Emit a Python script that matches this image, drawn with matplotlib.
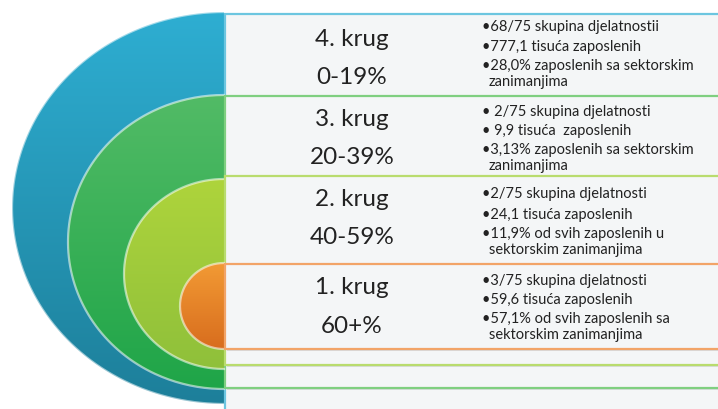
import numpy as np
import matplotlib
matplotlib.use("Agg")
import matplotlib.pyplot as plt
from matplotlib.path import Path
from matplotlib.patches import PathPatch, Rectangle
from matplotlib.colors import LinearSegmentedColormap

plt.rcParams['font.family'] = ['Lato', 'DejaVu Sans']

# podaci (od vanjskog prema unutarnjem krugu)
krugovi = ['4. krug', '3. krug', '2. krug', '1. krug']
rasponi = ['0-19%', '20-39%', '40-59%', '60+%']
stavke = [
    ['68/75 skupina djelatnostii', '777,1 tisuća zaposlenih',
     '28,0% zaposlenih sa sektorskim\nzanimanjima'],
    [' 2/75 skupina djelatnosti', ' 9,9 tisuća  zaposlenih',
     '3,13% zaposlenih sa sektorskim\nzanimanjima'],
    ['2/75 skupina djelatnosti', '24,1 tisuća zaposlenih',
     '11,9% od svih zaposlenih u\nsektorskim zanimanjima'],
    ['3/75 skupina djelatnosti', '59,6 tisuća zaposlenih',
     '57,1% od svih zaposlenih sa\nsektorskim zanimanjima'],
]

# boje: (gornja, donja) za polukrug, rub okvira
boje_gore = ['#2eaed2', '#52bb66', '#aed43c', '#f29a34']
boje_dolje = ['#1d7f9a', '#1fa548', '#8fc03a', '#d86d1e']
rubovi = ['#6cc6e0', '#7fcf80', '#b9dc6e', '#f2a468']

# raspored (pikseli): polukrugovi i okviri
ex = 224
elipse = [(209, 212, 196), (243, 156, 147), (275, 100, 95), (307, 44, 43)]
okviri = [(15, 420), (97, 389), (177, 366), (265, 350)]
naslov_y = [(40, 78), (120, 158), (200, 238), (288, 327)]
stavke_y = [(27, 47, 66), (112, 131, 150), (194, 215, 234), (281, 300, 319)]

fig = plt.figure(figsize=(7.18, 4.10), dpi=100)
ax = fig.add_axes([0, 0, 1, 1])
ax.set_xlim(0, 718)
ax.set_ylim(410, 0)
ax.axis('off')

t = np.linspace(np.pi / 2, 3 * np.pi / 2, 200)
for i in range(4):
    cy, rx, ry = elipse[i]
    verts = np.column_stack([ex + rx * np.cos(t), cy - ry * np.sin(t)])
    verts = np.vstack([verts, verts[:1]])
    put = Path(verts, closed=True)
    lik = PathPatch(put, facecolor='none', edgecolor='none', zorder=2 + 3 * i)
    ax.add_patch(lik)
    cmap = LinearSegmentedColormap.from_list('g%d' % i, [boje_gore[i], boje_dolje[i]])
    grad = np.linspace(0, 1, 256).reshape(-1, 1)
    slika = ax.imshow(grad, cmap=cmap, extent=(ex - rx, ex, cy + ry, cy - ry),
                      aspect='auto', zorder=2 + 3 * i, interpolation='bilinear')
    slika.set_clip_path(lik)
    # svijetli rub
    ax.plot(verts[:-1, 0], verts[:-1, 1], color='white',
            lw=1.6, alpha=0.55, zorder=2.1 + 3 * i)

    # okvir s tekstom
    y0, y1 = okviri[i]
    ax.add_patch(Rectangle((ex + 3, y0 + 2), 718, y1 - y0, facecolor='#d9dcde',
                           edgecolor='none', zorder=3 + 3 * i))
    ax.add_patch(Rectangle((ex + 1, y0), 718, y1 - y0, facecolor='#f4f6f7',
                           edgecolor=rubovi[i], lw=1.6, zorder=3.1 + 3 * i))

    ax.text(352, naslov_y[i][0], krugovi[i], fontsize=17.5, color='#222222',
            ha='center', va='center', zorder=4 + 3 * i)
    ax.text(352, naslov_y[i][1], rasponi[i], fontsize=17.5, color='#222222',
            ha='center', va='center', zorder=4 + 3 * i)
    for tekst, y in zip(stavke[i], stavke_y[i]):
        redovi = tekst.split('\n')
        ax.text(482, y, '•' + redovi[0], fontsize=10.5, color='#222222',
                ha='left', va='center', zorder=4 + 3 * i)
        for k, red in enumerate(redovi[1:]):
            ax.text(489, y + 16 * (k + 1), red, fontsize=10.5, color='#222222',
                    ha='left', va='center', zorder=4 + 3 * i)

fig.savefig('out.png', dpi=100, facecolor='white')
